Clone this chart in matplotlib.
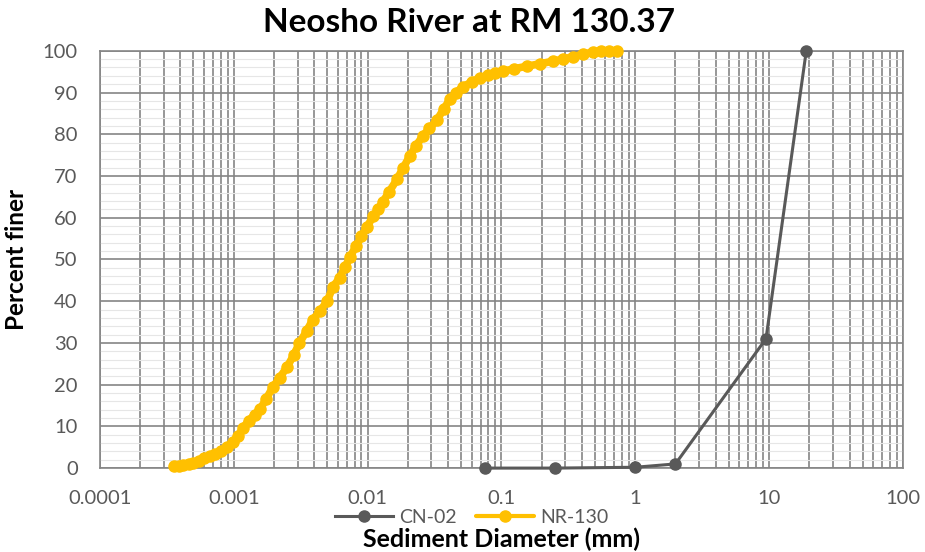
import matplotlib
matplotlib.use("Agg")
import matplotlib.pyplot as plt
from matplotlib.ticker import LogLocator, FixedLocator, MultipleLocator

plt.rcParams['font.family'] = ['Lato', 'DejaVu Sans']

# CN-02 sieve sample
cn_diam = [0.075, 0.25, 1.0, 2.0, 9.5, 19.0]
cn_pct = [0.0, 0.0, 0.2, 1.0, 31.0, 100.0]

# NR-130 hydrometer / laser sample
nr_diam = [0.00036, 0.00039, 0.00042, 0.00046, 0.00050, 0.00055, 0.00060, 0.00066,
           0.00072, 0.00080, 0.00089, 0.00098, 0.00108, 0.00117, 0.00130, 0.00143,
           0.00158, 0.00175, 0.00196, 0.0022, 0.0025, 0.0028, 0.0031, 0.0035,
           0.0039, 0.0044, 0.0050, 0.0055, 0.0062, 0.0068, 0.0074, 0.0082,
           0.0090, 0.0099, 0.0110, 0.0120, 0.0130, 0.0145, 0.0166, 0.0185,
           0.0207, 0.0230, 0.0259, 0.0290, 0.0330, 0.0370, 0.0413, 0.0460,
           0.0516, 0.0600, 0.0690, 0.0800, 0.0900, 0.1030, 0.1250, 0.1550,
           0.1950, 0.2430, 0.2900, 0.3430, 0.4100, 0.4840, 0.5600, 0.6400, 0.7300]
nr_pct = [0.5, 0.5, 0.7, 1.0, 1.3, 1.8, 2.3, 2.8,
          3.4, 4.1, 5.0, 6.2, 7.8, 9.6, 11.4, 12.8,
          14.2, 16.6, 19.4, 21.6, 24.2, 27.0, 30.0, 32.8,
          35.6, 37.6, 40.0, 43.4, 45.6, 48.2, 50.6, 53.2,
          55.5, 57.8, 60.3, 62.0, 63.8, 66.2, 69.2, 72.0,
          74.8, 77.2, 79.6, 81.4, 83.4, 86.0, 88.4, 90.0,
          91.4, 92.5, 93.5, 94.2, 94.6, 95.1, 95.7, 96.3,
          96.9, 97.5, 98.0, 98.6, 99.2, 99.7, 99.9, 100.0, 100.0]

xticks = [0.0001, 0.001, 0.01, 0.1, 1, 10, 100]
xtick_labels = ['0.0001', '0.001', '0.01', '0.1', '1', '10', '100']

fig = plt.figure(figsize=(9.25, 5.52), dpi=100)
ax = fig.add_axes([0.108, 0.152, 0.868, 0.756])

ax.set_xscale('log')
ax.set_xlim(0.0001, 100)
ax.set_ylim(0, 100)

# grid
ax.yaxis.set_major_locator(MultipleLocator(10))
ax.yaxis.set_minor_locator(MultipleLocator(2))
ax.xaxis.set_major_locator(FixedLocator(xticks))
ax.xaxis.set_minor_locator(LogLocator(base=10, subs=range(2, 10), numticks=20))
ax.grid(True, which='major', axis='both', color='#858585', linewidth=1.2, zorder=0)
ax.grid(True, which='minor', axis='x', color='#858585', linewidth=1.2, zorder=0)
ax.grid(True, which='minor', axis='y', color='#e6e6e6', linewidth=0.8, zorder=0)
ax.set_axisbelow(True)

ax.plot(cn_diam, cn_pct, color='#595959', linewidth=2.2, marker='o', markersize=8,
        label='CN-02', zorder=3, clip_on=False)
ax.plot(nr_diam, nr_pct, color='#FFC000', linewidth=5.5, marker='o', markersize=8,
        solid_capstyle='round', label='NR-130', zorder=3, clip_on=False)

ax.set_xticks(xticks)
ax.set_xticklabels(xtick_labels)
ax.tick_params(axis='both', which='both', length=0, colors='#595959', labelsize=14.5)
ax.tick_params(axis='x', pad=16)
ax.tick_params(axis='y', pad=16)

for s in ax.spines.values():
    s.set_color('#858585')
    s.set_linewidth(1.2)

fig.text(0.507, 0.985, 'Neosho River at RM 130.37', fontsize=24, fontweight='bold',
         ha='center', va='top')
ax.set_ylabel('Percent finer', fontsize=17.5, fontweight='bold')
ax.yaxis.set_label_coords(-0.09, 0.5)
ax.set_xlabel('Sediment Diameter (mm)', fontsize=18, fontweight='bold')
ax.xaxis.set_label_coords(0.5, -0.143)

leg = ax.legend(loc='center', bbox_to_anchor=(0.463, -0.118), ncol=2, frameon=False,
                fontsize=14, labelcolor='#595959', handlelength=3.0, columnspacing=1.0,
                handletextpad=0.3, borderaxespad=0)
leg.get_lines()[1].set_linewidth(3)

fig.savefig('out.png', dpi=100, facecolor='white')
